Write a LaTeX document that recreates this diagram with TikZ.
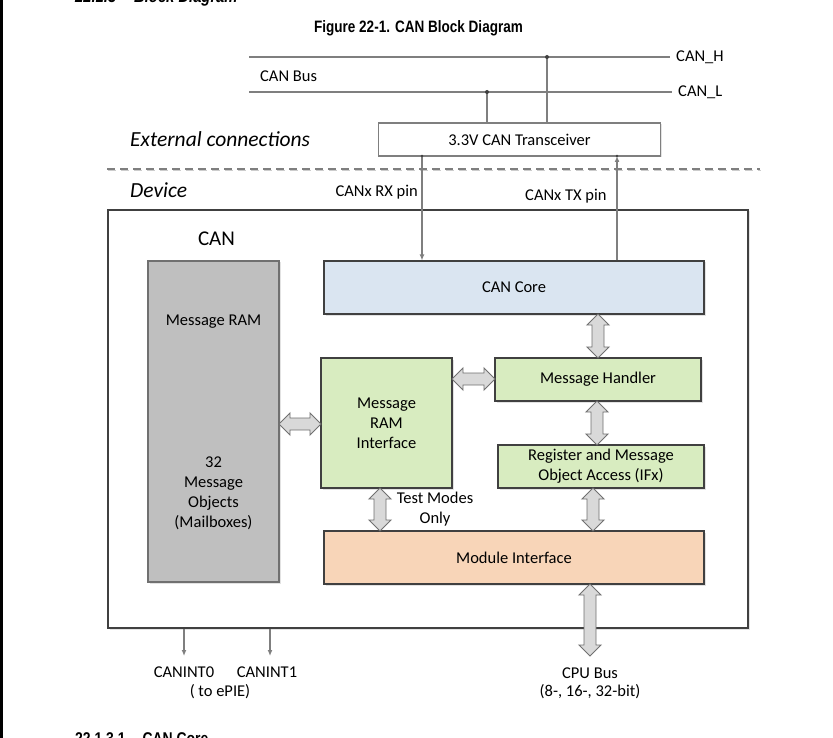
\documentclass[tikz,border=0pt]{standalone}
\usepackage{fontspec}
\setmainfont{Carlito}
\newfontfamily\capfont[FakeStretch=0.82]{Liberation Sans}
\usetikzlibrary{calc,arrows.meta,shadows}
\definecolor{boxline}{HTML}{404040}
\definecolor{busline}{HTML}{7F7F7F}
\definecolor{ramfill}{HTML}{BFBFBF}
\definecolor{corefill}{HTML}{DAE5F1}
\definecolor{greenfill}{HTML}{D8ECC0}
\definecolor{peachfill}{HTML}{F8D5B8}
\definecolor{arrowfill}{HTML}{D9D9D9}
\definecolor{arrowline}{HTML}{707070}
\tikzset{
  txt/.style={font=\fontsize{16.5}{20}\selectfont, inner sep=0pt, align=center},
  shad/.style={drop shadow={shadow xshift=1.5pt, shadow yshift=-1.5pt, fill=black!22}},
  blk/.style={draw=boxline, line width=1.1pt, inner sep=0pt, txt, shad},
  fatst/.style={draw=arrowline, fill=arrowfill, line width=0.9pt, line join=miter},
  pinarrow/.style={draw=busline, line width=1.2pt, -{Latex[length=6pt,width=5pt]}},
  bus/.style={draw=busline, line width=1.4pt},
}
% vertical fat double arrow: x, ytop, ybottom
\newcommand\fatV[3]{%
  \pgfmathsetmacro\fatL{#3-#2-22}%
  \draw[fatst] (#1,#2) -- ++(11,11) -- ++(-5,0) -- ++(0,\fatL) -- ++(5,0) -- ++(-11,11)
    -- ++(-11,-11) -- ++(5,0) -- ++(0,-\fatL) -- ++(-5,0) -- cycle;}
% horizontal fat double arrow: y, xleft, xright
\newcommand\fatH[3]{%
  \pgfmathsetmacro\fatL{#3-#2-22}%
  \draw[fatst] (#2,#1) -- ++(11,-11) -- ++(0,5) -- ++(\fatL,0) -- ++(0,-5) -- ++(11,11)
    -- ++(-11,11) -- ++(0,-5) -- ++(-\fatL,0) -- ++(0,5) -- cycle;}
\begin{document}
\begin{tikzpicture}[x=1pt,y=-1pt]
\useasboundingbox (0,0) rectangle (833,738);
% left edge strip
\fill[black] (0,0) rectangle (2.5,738);
% headings (cut off by page, as in the reference)
\node[anchor=base west, inner sep=0pt, font=\capfont\bfseries\itshape\fontsize{18}{20}\selectfont] (hd1) at (75,3) {22.1.3\quad Block Diagram};
\node[anchor=base west, inner sep=0pt, font=\capfont\bfseries\fontsize{17}{19}\selectfont] (hd2) at (75,744) {22.1.3.1\quad CAN Core};
\node[anchor=base, inner sep=0pt, font=\capfont\bfseries\fontsize{16.5}{18}\selectfont] (cap) at (418.5,33) {Figure 22-1. CAN Block Diagram};

% bus
\coordinate (hl) at (249,57); \coordinate (hr) at (670,57);
\coordinate (ll) at (249,92); \coordinate (lr) at (672,92);
\draw[bus] (hl) -- (hr);
\draw[bus] (ll) -- (lr);
\node[txt, anchor=west] (canh) at (676,57) {CAN\_H};
\node[txt, anchor=west] (canl) at (678,92) {CAN\_L};
\node[txt, anchor=west] (canbus) at (260,76) {CAN Bus};

% transceiver
\node[blk, draw=busline, fill=white, minimum width=282pt, minimum height=33pt] (xcvr) at (519.5,139.5) {3.3V CAN Transceiver};
\coordinate (hdot) at (547,57);
\coordinate (ldot) at (487,92);
\draw[bus] (hdot) -- (hdot |- xcvr.north);
\draw[bus] (ldot) -- (ldot |- xcvr.north);
\fill[boxline] (hdot) circle (2pt) (ldot) circle (2pt);

\node[txt, anchor=west, font=\itshape\fontsize{21.5}{24}\selectfont] (ext) at (130,139) {External connections};
\node[txt, anchor=west, font=\itshape\fontsize{21.5}{24}\selectfont] (dev) at (130,190) {Device};

% dashed separator
\coordinate (dsl) at (107,169); \coordinate (dsr) at (760,169);
\draw[black!20, line width=1.3pt, dash pattern=on 8pt off 5pt] ($(dsl)+(1,1.5)$) -- ($(dsr)+(1,1.5)$);
\draw[busline, line width=1.3pt, dash pattern=on 8pt off 5pt] (dsl) -- (dsr);

% device box
\node[draw=boxline, line width=1.8pt, minimum width=640pt, minimum height=418pt, inner sep=0pt, shad, fill=white] (device) at (428,419) {};
\node[txt, font=\fontsize{21}{24}\selectfont] (can) at (216.5,239) {CAN};

% blocks
\node[blk, draw=arrowline, fill=ramfill, minimum width=131pt, minimum height=321pt] (ram) at (213.5,421.5) {};
\node[txt] (ramt) at (213.5,322) {Message RAM};
\node[txt, text width=120pt] (ramo) at (213.5,493.5) {32\\Message\\Objects\\(Mailboxes)};

\node[blk, fill=corefill, minimum width=380pt, minimum height=53pt] (core) at (514,287.5) {CAN Core};
\node[blk, fill=greenfill, minimum width=131pt, minimum height=130pt] (mri) at (386.5,423) {Message\\RAM\\Interface};
\node[blk, fill=greenfill, minimum width=206pt, minimum height=43pt] (mh) at (598,379.5) {Message Handler};
\node[blk, fill=greenfill, minimum width=206pt, minimum height=43pt] (reg) at (601,466.5) {Register and Message\\Object Access (IFx)};
\node[blk, fill=peachfill, minimum width=380pt, minimum height=53pt] (mod) at (514,557.5) {Module Interface};

% pin arrows
\coordinate (rxtop) at (422,156);
\coordinate (txtop) at (617,156);
\draw[pinarrow] (rxtop) -- (rxtop |- core.north);
\draw[pinarrow] (txtop |- core.north) -- (txtop);
\fill[boxline] (rxtop) circle (1.3pt) (txtop) circle (1.3pt);
\node[txt, anchor=east] (rxl) at (418,192) {CANx RX pin};
\node[txt, anchor=west] (txl) at (525,196) {CANx TX pin};

% fat double arrows
\fatV{598}{314}{358}
\fatH{379}{452}{495}
\fatH{424}{279}{321}
\fatV{597}{401}{445}
\fatV{593}{488}{531}
\fatV{380}{488}{531}
\fatV{590}{584}{656}
\node[txt] (tmo) at (435,509) {Test Modes\\Only};

% interrupts
\coordinate (i0) at (184,656);
\coordinate (i1) at (270,656);
\draw[pinarrow] (i0 |- device.south) -- (i0);
\draw[pinarrow] (i1 |- device.south) -- (i1);
\node[txt] (ci0) at (184,672) {CANINT0};
\node[txt] (ci1) at (267,672) {CANINT1};
\node[txt] (epie) at (220,692) {( to ePIE)};
\node[txt] (cpu) at (590,673) {CPU Bus};
\node[txt] (cpuw) at (590,692) {(8-, 16-, 32-bit)};
\end{tikzpicture}
\end{document}
